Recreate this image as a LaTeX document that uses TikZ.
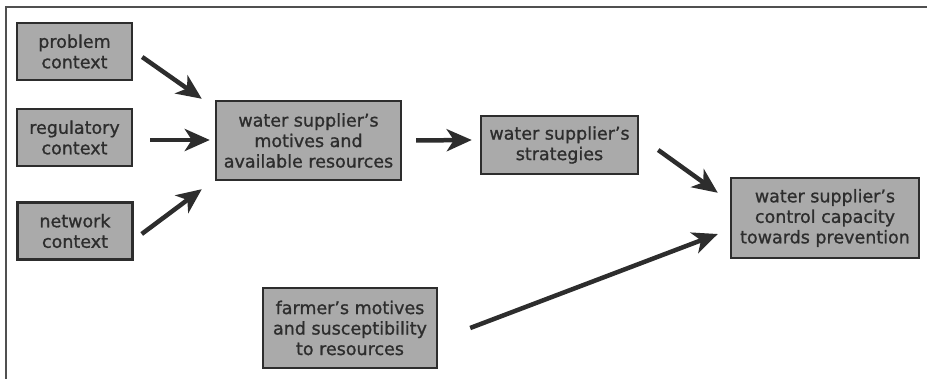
\documentclass[tikz,border=0pt]{standalone}
\usepackage{fontspec}
\setmainfont{DejaVu Sans}
\newfontfamily\boxfont[FakeBold=1.0,Ligatures=TeX]{DejaVu Sans}
\usetikzlibrary{arrows.meta,calc}
\definecolor{boxfill}{RGB}{170,170,170}
\definecolor{ink}{RGB}{45,45,45}
\definecolor{framec}{RGB}{80,80,80}
\begin{document}
\begin{tikzpicture}[x=1pt,y=-1pt,
  box/.style={draw=ink,line width=2.4pt,fill=boxfill,text=ink,align=center,
    inner sep=0pt,font=\boxfont\fontsize{17.5}{20.5}\selectfont},
  arr/.style={draw=ink,line width=4.5pt,-{Stealth[length=25pt,width=22pt,inset=7pt]}}]
\useasboundingbox (0,0) rectangle (927,379);
\draw[framec,line width=2pt] (6,379) -- (6,7) -- (927,7);
\node[box,minimum width=115pt,minimum height=57pt] (pc) at (74.5,51.5) {problem\\context};
\node[box,minimum width=115pt,minimum height=57pt] (rc) at (74.5,137.5) {regulatory\\context};
\node[box,minimum width=115pt,minimum height=57pt] (nc) at (75,231) {network\\context};
\node[box,minimum width=185pt,minimum height=79pt] (mot) at (308.5,140.5) {water supplier’s\\motives and\\available resources};
\node[box,minimum width=157pt,minimum height=58pt] (st) at (559.5,145) {water supplier’s\\strategies};
\node[box,minimum width=188pt,minimum height=80pt] (cc) at (825,218) {water supplier’s\\control capacity\\towards prevention};
\node[box,minimum width=174pt,minimum height=80pt] (fm) at (350,328) {farmer’s motives\\and susceptibility\\to resources};
\draw[arr] ($(pc.east)+(9,5.5)$) -- ($(mot.north west)+(-13,-1)$);
\draw[arr] ($(rc.east)+(17,2.5)$) -- ($(mot.west)+(-5,-0.5)$);
\draw[arr] ($(nc.east)+(8,3)$) -- ($(mot.south west)+(-13,8)$);
\draw[arr] ($(mot.east)+(14,0)$) -- ($(st.west)+(-8,-5)$);
\draw[arr] ($(st.east)+(19,5)$) -- ($(cc.north west)+(-12,16)$);
\draw[arr] ($(fm.east)+(32,0)$) -- ($(cc.west)+(-12,16)$);
\end{tikzpicture}
\end{document}
